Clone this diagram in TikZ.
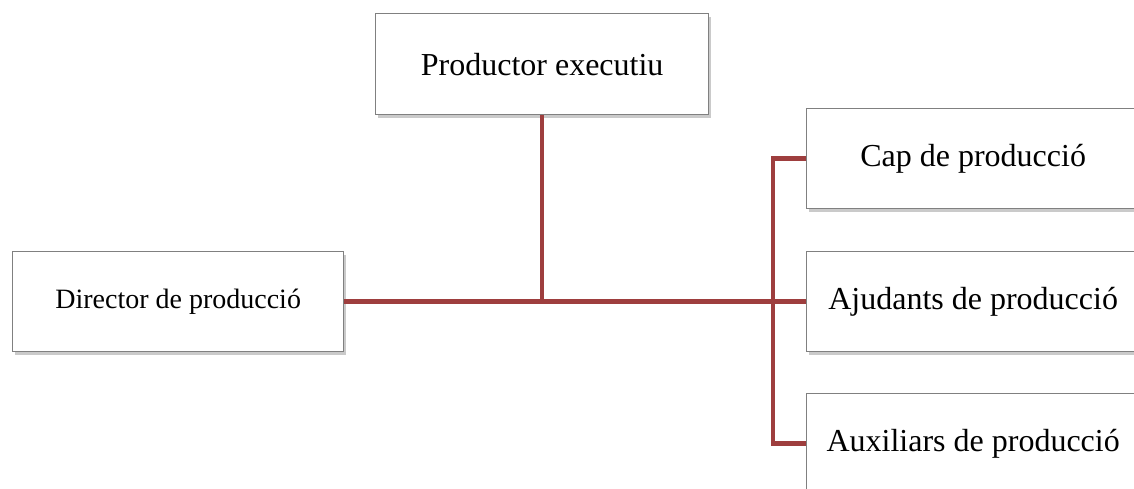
\documentclass[tikz,border=0pt]{standalone}
\usepackage{fontspec}
\setmainfont{Liberation Serif}
\usetikzlibrary{shadows}
\definecolor{linkred}{RGB}{158,62,62}
\definecolor{boxgray}{RGB}{128,128,128}
\begin{document}
\begin{tikzpicture}[x=1pt,y=-1pt,
  orgbox/.style={draw=boxgray,line width=1.3pt,fill=white,anchor=north west,
    inner sep=0pt,align=center,
    drop shadow={shadow xshift=2pt,shadow yshift=-3pt,opacity=0.35,fill=black!60}},
  bigtext/.style={font=\fontsize{32}{38}\selectfont},
  smalltext/.style={font=\fontsize{28}{34}\selectfont},
  link/.style={draw=linkred,line width=4.5pt}]
\useasboundingbox (0,0) rectangle (1134,489);
\clip (0,0) rectangle (1134,489);
\node[orgbox,bigtext,minimum width=333pt,minimum height=101pt] (prod) at (375,13) {Productor executiu};
\node[orgbox,smalltext,minimum width=331pt,minimum height=100pt] (dir) at (12,251) {Director de producció};
\node[orgbox,bigtext,minimum width=333pt,minimum height=100pt] (cap) at (806,108) {Cap de producció};
\node[orgbox,bigtext,minimum width=333pt,minimum height=100pt] (aju) at (806,251) {Ajudants de producció};
\node[orgbox,bigtext,minimum width=333pt,minimum height=100pt] (aux) at (806,393) {Auxiliars de producció};
\coordinate (bus) at (773,301);
\draw[link] (dir.east) -- (aju.west);
\draw[link] (prod.south) -- (prod.south |- dir.east);
\draw[link] (cap.west) -| (bus) |- (aux.west);
\end{tikzpicture}
\end{document}
